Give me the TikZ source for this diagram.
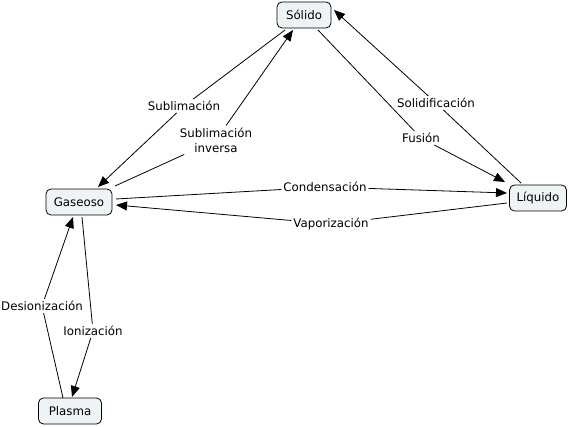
\documentclass[tikz,border=0pt]{standalone}
\usepackage{fontspec}
\setmainfont{DejaVu Sans}
\usetikzlibrary{arrows.meta}
\definecolor{cfill}{RGB}{238,243,246}
\tikzset{
  concept/.style={draw=black, fill=cfill, rounded corners=5pt, line width=0.8pt,
    inner xsep=4pt, minimum height=26pt, font=\fontsize{11.8}{14}\selectfont},
  linkphrase/.style={inner sep=2pt, font=\fontsize{11.8}{15}\selectfont, align=center},
  conn/.style={line width=0.8pt},
  arr/.style={conn, -{Triangle[length=11pt,width=9pt]}}
}
\newcommand{\at}[3]{([shift={(#2,#3)}]#1.center)}
\begin{document}
\begin{tikzpicture}[x=1pt,y=-1pt]
\useasboundingbox (0,0) rectangle (570,427);
\node[concept, minimum width=54pt] (solido) at (304,15) {Sólido};
\node[concept, minimum width=66pt] (gaseoso) at (79,202) {Gaseoso};
\node[concept, minimum width=57pt] (liquido) at (538,198) {Líquido};
\node[concept, minimum width=63pt] (plasma) at (70,411) {Plasma};

\node[linkphrase] (subl) at (184,106) {Sublimación};
\node[linkphrase] (subinv) at (216,140) {Sublimación\\inversa};
\node[linkphrase] (solid) at (436,103) {Solidificación};
\node[linkphrase] (fusion) at (421,138) {Fusión};
\node[linkphrase] (cond) at (325,187) {Condensación};
\node[linkphrase] (vapor) at (331,224) {Vaporización};
\node[linkphrase] (desion) at (42,306) {Desionización};
\node[linkphrase] (ioniz) at (93,331) {Ionización};

\draw[conn] \at{solido}{-19}{15} -- (subl);
\draw[arr] (subl) -- \at{gaseoso}{19}{-15};
\draw[conn] \at{gaseoso}{36}{-16} -- (subinv);
\draw[arr] (subinv) -- \at{solido}{-11}{15};
\draw[conn] \at{solido}{14}{15} -- (fusion);
\draw[arr] (fusion) -- \at{liquido}{-33}{-16};
\draw[conn] \at{liquido}{-17}{-15} -- (solid);
\draw[arr] (solid) -- \at{solido}{30}{-5};
\draw[conn] \at{gaseoso}{37}{-3} -- (cond);
\draw[arr] (cond) -- \at{liquido}{-31}{-5};
\draw[conn] \at{liquido}{-31}{5} -- (vapor);
\draw[arr] (vapor) -- \at{gaseoso}{37}{3};
\draw[conn] \at{gaseoso}{3}{15} -- (ioniz);
\draw[arr] (ioniz) -- \at{plasma}{2}{-14};
\draw[conn] \at{plasma}{-7}{-13} -- (desion);
\draw[arr] (desion) -- \at{gaseoso}{-6}{15};
\end{tikzpicture}
\end{document}
